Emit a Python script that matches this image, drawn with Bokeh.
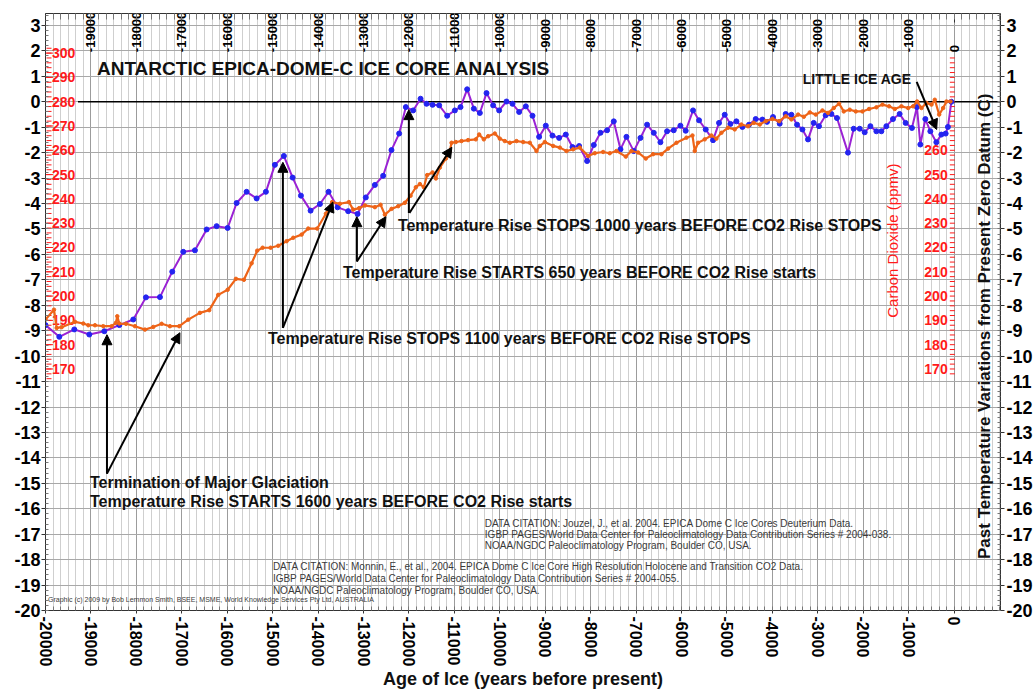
import math
from bokeh.plotting import figure
from bokeh.models import (Range1d, LinearAxis, FixedTicker, Grid, Arrow, NormalHead,
                          CustomJSTickFormatter)
from bokeh.core.properties import value
from bokeh.embed import file_html
from bokeh.resources import INLINE

FONT = "Liberation Sans"

# ---------------- data ----------------
temp_years = [-20000, -19696, -19366, -19036, -18706, -18376, -18068, -17789, -17481, -17210,
              -16968, -16711, -16453, -16233, -15991, -15793, -15573, -15353, -15149, -14951,
              -14753, -14561, -14378, -14165, -13960, -13769, -13571, -13338, -13131, -12950,
              -12750, -12568, -12385, -12216, -12068, -11908, -11745, -11613, -11481, -11335,
              -11159, -10990, -10865, -10719, -10572, -10440, -10293, -10147, -10015, -9853,
              -9721, -9575, -9428, -9281, -9135, -8988, -8841, -8695, -8548, -8401,
              -8255, -8079, -7932, -7785, -7639, -7492, -7345, -7213, -7052, -6905,
              -6759, -6612, -6465, -6319, -6172, -6025, -5909, -5747, -5615, -5468,
              -5307, -5175, -5050, -4925, -4793, -4661, -4515, -4368, -4220, -4119,
              -3987, -3840, -3708, -3582, -3458, -3340, -3217, -3091, -2975, -2828,
              -2702, -2579, -2337, -2212, -2079, -1969, -1844, -1712, -1602, -1492,
              -1347, -1200, -1068, -929, -819, -744, -634, -524, -392, -282,
              -187, -137, -62]
temp_values = [-8.78, -9.24, -8.95, -9.15, -9.02, -8.78, -8.56, -7.69, -7.68, -6.68,
               -5.90, -5.84, -5.02, -4.89, -4.96, -3.98, -3.54, -3.80, -3.54, -2.48,
               -2.13, -2.98, -3.69, -4.28, -4.02, -3.54, -4.15, -4.30, -4.41, -3.76,
               -3.27, -2.91, -1.90, -1.25, -0.21, -0.34, 0.12, -0.08, -0.12, -0.14,
               -0.55, -0.34, -0.21, 0.49, -0.27, -0.44, 0.34, -0.14, -0.34, 0.01,
               -0.08, -0.40, -0.18, -0.55, -1.38, -0.94, -1.33, -1.42, -1.29, -1.78,
               -1.74, -2.33, -1.70, -1.22, -1.12, -0.77, -1.87, -1.38, -1.94, -1.42,
               -0.90, -1.22, -1.59, -1.16, -1.12, -0.94, -1.14, -0.34, -0.73, -1.09,
               -1.51, -0.83, -0.51, -0.87, -0.77, -0.99, -0.90, -0.68, -0.70, -0.79,
               -0.60, -0.86, -0.48, -0.51, -0.90, -1.09, -1.48, -0.83, -0.96, -0.53,
               -0.48, -0.64, -2.00, -1.06, -1.06, -1.20, -0.96, -1.16, -1.16, -0.96,
               -0.68, -0.48, -0.83, -1.03, -0.21, -1.68, -0.68, -1.16, -1.59, -1.29,
               -1.25, -0.99, 0.00]

co2_years = [-20000, -19813, -19754, -19644, -19351, -19168, -19058, -18911, -18728, -18545,
             -18449, -18420, -18376, -18229, -18031, -17811, -17628, -17444, -17261, -17056,
             -16858, -16601, -16396, -16198, -15991, -15809, -15633, -15463, -15340, -15221,
             -15045, -14878, -14693, -14547, -14363, -14217, -14019, -13828, -13690, -13520,
             -13322, -13228, -13096, -12970, -12750, -12625, -12530, -12383, -12237, -12090,
             -11965, -11848, -11760, -11672, -11599, -11481, -11408, -11320, -11188, -11100,
             -11063, -10969, -10843, -10698, -10528, -10455, -10352, -10257, -10110, -10000,
             -9890, -9780, -9633, -9487, -9340, -9193, -9120, -9010, -8827, -8680,
             -8533, -8387, -8240, -8057, -7910, -7727, -7580, -7433, -7228, -7103,
             -6957, -6788, -6627, -6442, -6296, -6112, -5892, -5760, -5710, -5637,
             -5490, -5343, -5233, -5123, -4977, -4830, -4683, -4537, -4411, -4279,
             -4147, -4000, -3853, -3707, -3582, -3435, -3310, -3178, -3046, -2899,
             -2775, -2650, -2533, -2430, -2298, -2166, -2018, -1872, -1710, -1578,
             -1432, -1307, -1160, -1013, -903, -815, -719, -609, -499, -426,
             -330, -242, -169, -81]
co2_ppm = [190.3, 194.4, 186.9, 187.2, 189.4, 188.7, 188.0, 188.0, 187.6, 187.6,
           189.0, 191.7, 188.7, 188.6, 187.6, 186.2, 187.3, 188.6, 187.6, 187.6,
           190.3, 193.1, 194.2, 200.5, 202.6, 207.1, 206.7, 213.5, 218.7, 219.9,
           219.9, 220.7, 222.6, 224.0, 225.3, 227.8, 227.8, 233.9, 238.7, 238.0,
           238.7, 235.6, 236.2, 237.3, 236.6, 237.6, 233.5, 235.9, 237.0, 238.4,
           241.3, 244.8, 246.1, 244.8, 249.8, 250.9, 248.4, 252.9, 256.6, 259.7,
           263.1, 263.4, 263.8, 264.2, 264.5, 266.5, 264.5, 265.8, 266.9, 264.8,
           263.8, 263.1, 263.8, 263.4, 263.1, 259.7, 261.8, 263.4, 261.8, 261.1,
           259.7, 260.4, 261.1, 257.7, 258.8, 259.3, 258.8, 259.7, 257.4, 259.7,
           259.1, 256.6, 258.4, 258.4, 260.7, 263.1, 265.2, 266.1, 259.7, 263.1,
           264.5, 266.1, 264.8, 267.2, 269.3, 268.6, 270.6, 269.9, 271.3, 270.6,
           272.0, 272.9, 272.0, 274.0, 272.7, 274.7, 273.8, 275.6, 274.7, 276.4,
           275.4, 277.4, 279.2, 276.0, 276.7, 276.0, 276.0, 277.0, 277.7, 278.8,
           278.1, 277.0, 278.1, 277.4, 278.1, 280.1, 277.4, 279.5, 278.8, 280.8,
           274.7, 277.4, 280.1, 280.1]

year_ticks = list(range(-20000, 1, 1000))
top_label_years = list(range(-19000, 1, 1000))
year_minor_ticks = [round(-20000 + i * 1000 / 6) for i in range(0, 127)]
temp_ticks = list(range(-20, 4))
temp_minor_ticks = [round(-20 + i * 0.2, 1) for i in range(0, 118)]
co2_left_labels = list(range(170, 301, 10))
co2_right_labels = list(range(170, 261, 10))
co2_left_minor = list(range(166, 304, 2))
co2_right_minor = list(range(168, 300, 2))

title_text = "ANTARCTIC  EPICA-DOME-C  ICE  CORE  ANALYSIS"
x_title = "Age of Ice (years before present)"
note_texts = ["Temperature Rise STOPS 1000 years  BEFORE CO2 Rise STOPS",
              "Temperature Rise STARTS 650 years  BEFORE CO2 Rise starts",
              "Temperature Rise STOPS 1100 years  BEFORE CO2 Rise STOPS",
              "Termination of Major Glaciation",
              "Temperature Rise STARTS 1600 years  BEFORE CO2 Rise starts",
              "LITTLE ICE AGE"]
note_x = [-12244, -13454, -15105, -19021, -19021, -3333]
note_y = [-4.87, -6.71, -9.32, -14.97, -15.71, 0.90]
note_size = ["16px", "16px", "16px", "16px", "16px", "14px"]

arrow_x0 = [-18647, -18647, -14775, -14775, -13146, -13146, -12002, -11990, -825]
arrow_y0 = [-14.62, -14.62, -8.89, -8.89, -6.28, -6.28, -4.37, -4.37, 0.78]
arrow_x1 = [-18647, -17041, -14775, -13674, -13146, -12508, -12002, -11056, -385]
arrow_y1 = [-9.16, -9.08, -2.38, -3.94, -4.52, -4.52, -0.31, -1.79, -1.09]

cite1 = ["DATA CITATION: Jouzel, J., et al. 2004. EPICA Dome C Ice Cores Deuterium Data.",
         "IGBP PAGES/World Data Center for Paleoclimatology Data Contribution Series # 2004-038.",
         "NOAA/NGDC Paleoclimatology Program, Boulder CO, USA."]
cite2 = ["DATA CITATION: Monnin, E., et al., 2004. EPICA Dome C Ice Core High Resolution Holocene and Transition CO2 Data.",
         "IGBP PAGES/World Data Center for Paleoclimatology Data Contribution Series # 2004-055.",
         "NOAA/NGDC Paleoclimatology Program, Boulder CO, USA."]
cite1_y = [-16.57, -17.0, -17.43]
cite2_y = [-18.28, -18.75, -19.22]
credit_text = "Graphic (c) 2009 by Bob Lemmon Smith, BSEE, MSME, World Knowledge Services Pty Ltd, AUSTRALIA"

# ---------------- figure ----------------
p = figure(width=1035, height=692, x_range=Range1d(-20000, 1020), y_range=Range1d(-20, 3.47),
           output_backend="svg", toolbar_location=None, x_axis_location=None, y_axis_location=None,
           min_border_left=45, min_border_right=34, min_border_top=13, min_border_bottom=77,
           background_fill_color="white", border_fill_color="white", outline_line_color=None)
p.extra_y_ranges = {"co2": Range1d(70.6, 316.3)}

xgrid = Grid(dimension=0, ticker=FixedTicker(ticks=year_ticks, minor_ticks=year_minor_ticks),
             grid_line_color="#9c9c9c", grid_line_width=1,
             minor_grid_line_color="#cfcfcf", minor_grid_line_width=1)
ygrid = Grid(dimension=1, ticker=FixedTicker(ticks=temp_ticks),
             grid_line_color="#a8a8a8", grid_line_width=1)
p.add_layout(xgrid)
p.add_layout(ygrid)

def style_axis(ax):
    ax.axis_line_color = "#333333"
    ax.major_tick_line_color = "#333333"
    ax.minor_tick_line_color = "#777777"
    ax.major_label_text_font = FONT
    ax.major_label_text_font_style = "bold"
    ax.major_label_text_color = "black"

xb = LinearAxis(ticker=FixedTicker(ticks=year_ticks, minor_ticks=year_minor_ticks),
                axis_label=x_title)
style_axis(xb)
xb.major_label_overrides = {t: str(t) for t in year_ticks}
xb.major_label_orientation = -math.pi / 2
xb.major_label_text_font_size = "16px"
xb.major_tick_out = 3
xb.major_tick_in = 0
xb.minor_tick_in = 4
xb.minor_tick_out = 0
xb.major_label_standoff = 3
xb.axis_label_standoff = 0
xb.axis_label_text_font = FONT
xb.axis_label_text_font_style = "bold"
xb.axis_label_text_font_size = "18px"
xb.axis_label_text_color = "#111111"
p.add_layout(xb, "below")

xt = LinearAxis(ticker=FixedTicker(ticks=year_ticks, minor_ticks=year_minor_ticks),
                formatter=CustomJSTickFormatter(code="return ''"))
style_axis(xt)
xt.major_label_text_font_size = "1px"
xt.major_tick_out = 0
xt.major_tick_in = 9
xt.minor_tick_in = 6
xt.minor_tick_out = 0
xt.major_label_standoff = 0
p.add_layout(xt, "above")

for side in ("left", "right"):
    ay = LinearAxis(ticker=FixedTicker(ticks=temp_ticks, minor_ticks=temp_minor_ticks))
    style_axis(ay)
    ay.major_label_overrides = {t: str(t) for t in temp_ticks}
    ay.major_label_text_font_size = "18px"
    ay.major_tick_out = 4
    ay.major_tick_in = 0
    ay.minor_tick_in = 3
    ay.minor_tick_out = 0
    ay.major_label_standoff = 1 if side == "left" else 2
    p.add_layout(ay, side)

# zero datum line
p.segment(x0=[-19285], y0=[0], x1=[1020], y1=[0], line_color="black", line_width=1.6)

# top tick labels drawn inside the frame
p.text(x=top_label_years, y=[1.95] * len(top_label_years), text=[str(v) for v in top_label_years],
       angle=math.pi / 2, text_align="left", text_baseline="middle",
       text_font=value(FONT), text_font_style="bold", text_font_size="13px", text_color="black")

# CO2 axes (inside the frame, red)
RED = "#ff1a1a"
p.scatter(x=[-19923] * len(co2_left_minor), y=co2_left_minor, y_range_name="co2", marker="dash",
          size=5, line_color=RED, line_width=1)
p.scatter(x=[-19923] * len(co2_left_labels), y=co2_left_labels, y_range_name="co2", marker="dash",
          size=8, line_color=RED, line_width=1)
p.text(x=[-19857] * len(co2_left_labels), y=co2_left_labels, text=[str(v) for v in co2_left_labels],
       y_range_name="co2", text_align="left", text_baseline="middle", text_font=value(FONT),
       text_font_style="bold", text_font_size="14px", text_color=RED)
p.scatter(x=[-40] * len(co2_right_minor), y=co2_right_minor, y_range_name="co2", marker="dash",
          size=5, line_color=RED, line_width=1)
p.text(x=[-143] * len(co2_right_labels), y=co2_right_labels, text=[str(v) for v in co2_right_labels],
       y_range_name="co2", text_align="right", text_baseline="middle", text_font=value(FONT),
       text_font_style="bold", text_font_size="14px", text_color=RED)
p.text(x=[-1353], y=[-5.46], text=["Carbon Dioxide (ppmv)"], angle=math.pi / 2,
       text_align="center", text_baseline="middle", text_font=value(FONT),
       text_font_size="15px", text_color=RED)

# data series
PURPLE = "#9a22d4"
BLUE = "#2424f0"
ORANGE = "#ee6418"
p.line(temp_years, temp_values, line_color=PURPLE, line_width=2)
p.scatter(temp_years, temp_values, marker="circle", size=5, fill_color=BLUE, line_color=BLUE)
p.line(co2_years, co2_ppm, y_range_name="co2", line_color=ORANGE, line_width=2.2)
p.scatter(co2_years, co2_ppm, y_range_name="co2", marker="circle", size=3.5,
          fill_color=ORANGE, line_color=ORANGE)

# title and notes
p.text(x=[-18867], y=[1.29], text=[title_text], text_align="left", text_baseline="middle",
       text_font=value(FONT), text_font_style="bold", text_font_size="19px", text_color="#111111")
for t, xx, yy, fs in zip(note_texts, note_x, note_y, note_size):
    p.text(x=[xx], y=[yy], text=[t], text_align="left", text_baseline="middle",
           text_font=value(FONT), text_font_style="bold", text_font_size=fs, text_color="#111111")

for a, b, c, d in zip(arrow_x0, arrow_y0, arrow_x1, arrow_y1):
    p.add_layout(Arrow(x_start=a, y_start=b, x_end=c, y_end=d, line_color="black", line_width=2,
                       end=NormalHead(size=10, fill_color="black", line_color="black", line_width=1)))

# citations
p.text(x=[-10330] * 3, y=cite1_y, text=cite1, text_align="left", text_baseline="middle",
       text_font=value(FONT), text_font_size="10px", text_color="#3a3a3a")
p.text(x=[-14995] * 3, y=cite2_y, text=cite2, text_align="left", text_baseline="middle",
       text_font=value(FONT), text_font_size="10px", text_color="#3a3a3a")
p.text(x=[-19945], y=[-19.57], text=[credit_text], text_align="left", text_baseline="middle",
       text_font=value(FONT), text_font_size="7px", text_color="#3a3a3a")

# right-side temperature axis title (inside frame)
p.text(x=[671], y=[-8.27], text=["Past  Temperature  Variations  from  Present  Zero  Datum (C)"],
       angle=math.pi / 2, text_align="center", text_baseline="middle", text_font=value(FONT),
       text_font_style="bold", text_font_size="17px", text_color="#111111")

open("out.html", "w").write(file_html(p, INLINE))
